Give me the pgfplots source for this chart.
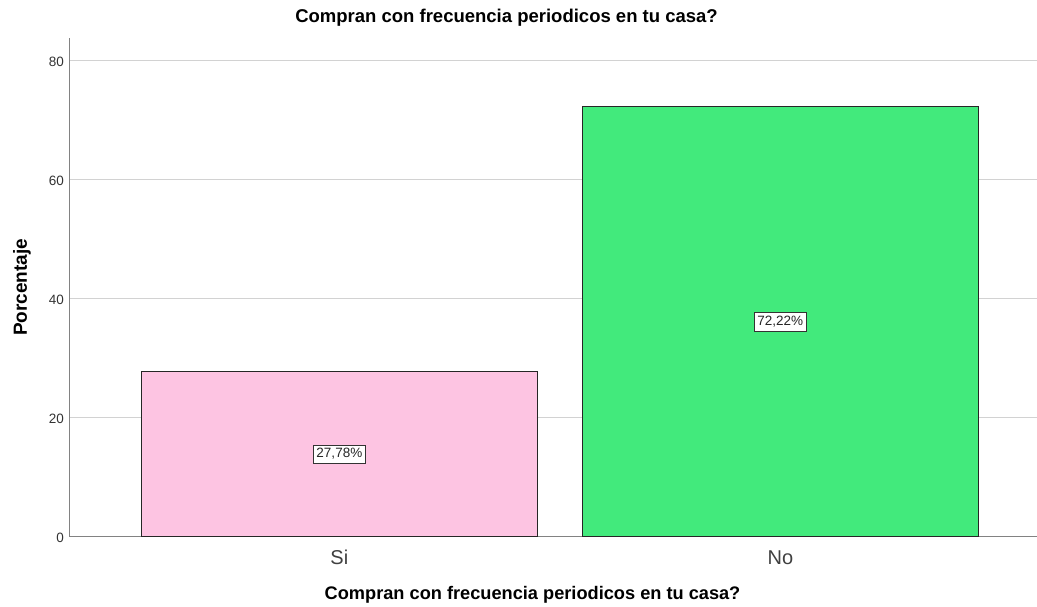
\documentclass[border=0pt]{standalone}
\usepackage{fontspec}
\setmainfont{Liberation Sans}
\usepackage{pgfplots}
\pgfplotsset{compat=1.18}
\definecolor{pinkbar}{RGB}{253,196,226}
\definecolor{greenbar}{RGB}{66,234,124}
\definecolor{gridc}{RGB}{210,210,210}
\definecolor{axc}{RGB}{130,130,130}
\begin{document}
\begin{tikzpicture}
\path[use as bounding box] (-69.5bp,-70.5bp) rectangle (967.5bp,536.5bp);
\begin{axis}[
  at={(0,0)}, anchor=south west,
  scale only axis,
  width=967.5bp, height=498.5bp,
  xmin=-0.612, xmax=1.582,
  ymin=0, ymax=83.8,
  axis x line*=bottom, axis y line*=left,
  axis line style={axc, line width=1pt},
  x axis line style={-}, y axis line style={-},
  xtick={0,1}, xticklabels={Si,No},
  ytick={0,20,40,60,80},
  major tick length=0pt,
  ymajorgrids, grid style={gridc, line width=1pt},
  yticklabel style={font=\fontsize{13.5bp}{15bp}\selectfont, text=black!80, anchor=east, xshift=-2bp, yshift=-1.5bp},
  xticklabel style={font=\fontsize{20bp}{22bp}\selectfont, text=black!75, anchor=base, yshift=-27.5bp},
  /pgf/number format/assume math mode=true,
  title={Compran con frecuencia periodicos en tu casa?},
  title style={font=\bfseries\fontsize{18.5bp}{20bp}\selectfont, at={(0.4517,1)}, anchor=base, yshift=10bp},
  xlabel={Compran con frecuencia periodicos en tu casa?},
  xlabel style={font=\bfseries\fontsize{18.2bp}{20bp}\selectfont, at={(0.4786,0)}, anchor=base, yshift=-62.5bp},
  ylabel={Porcentaje},
  ylabel style={font=\bfseries\fontsize{19bp}{21bp}\selectfont, at={(-0.0491,0.5)}, anchor=center},
  clip=false,
]
\addplot[ybar, bar width=0.9, fill=pinkbar, draw=black!85, line width=0.8pt] coordinates {(0,27.78)};
\addplot[ybar, bar width=0.9, fill=greenbar, draw=black!85, line width=0.8pt] coordinates {(1,72.22)};
\node[draw=black!80, fill=white, inner xsep=3bp, inner ysep=3.5bp, font=\fontsize{13.5bp}{15bp}\selectfont, text=black!85] at (axis cs:0,13.89) {27,78\%};
\node[draw=black!80, fill=white, inner xsep=3bp, inner ysep=3.5bp, font=\fontsize{13.5bp}{15bp}\selectfont, text=black!85] at (axis cs:1,36.11) {72,22\%};
\end{axis}
\end{tikzpicture}
\end{document}
